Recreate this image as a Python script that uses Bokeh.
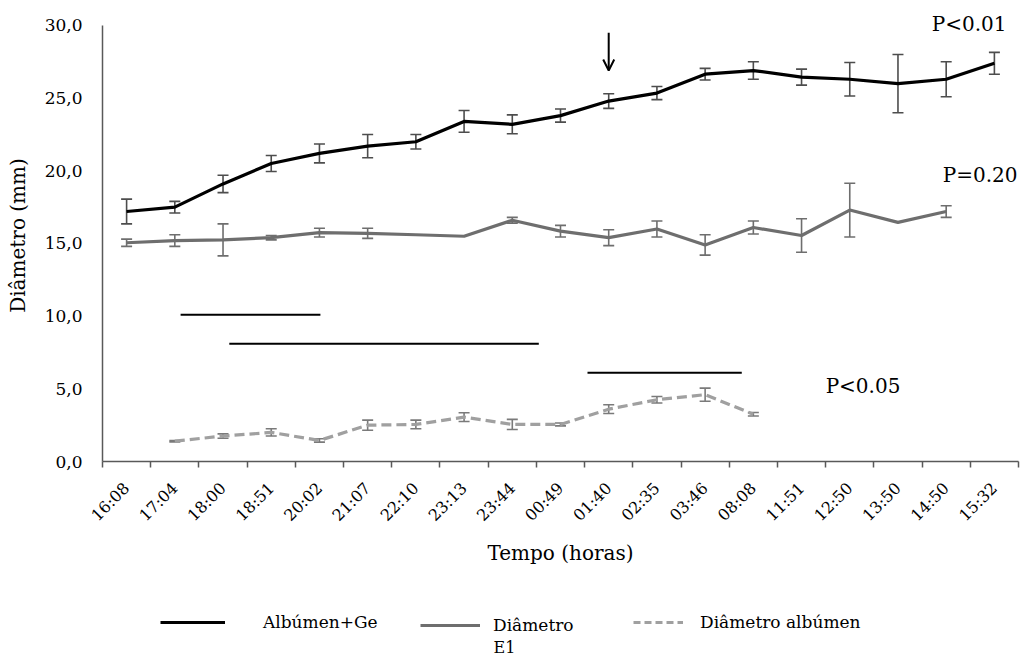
import math
from bokeh.plotting import figure
from bokeh.layouts import column
from bokeh.models import (ColumnDataSource, Range1d, FixedTicker, Whisker, TeeHead, Label,
                          Arrow, OpenHead, Legend, LegendItem)
from bokeh.embed import file_html
from bokeh.resources import INLINE

nan = float("nan")

# ---------------- data ----------------
times = ["16:08", "17:04", "18:00", "18:51", "20:02", "21:07", "22:10", "23:13", "23:44", "00:49",
         "01:40", "02:35", "03:46", "08:08", "11:51", "12:50", "13:50", "14:50", "15:32"]

alb_gema = [17.2, 17.5, 19.1, 20.5, 21.2, 21.7, 22.0, 23.4, 23.2, 23.8,
            24.8, 25.35, 26.65, 26.9, 26.45, 26.3, 26.0, 26.3, 27.4]
alb_gema_err = [0.85, 0.4, 0.6, 0.55, 0.65, 0.8, 0.5, 0.75, 0.65, 0.45,
                0.5, 0.45, 0.4, 0.6, 0.55, 1.15, 2.0, 1.2, 0.75]

diam_f1 = [15.05, 15.2, 15.25, 15.4, 15.75, 15.7, 15.6, 15.5, 16.6, 15.85,
           15.4, 16.0, 14.9, 16.1, 15.55, 17.3, 16.45, 17.2, nan]
diam_f1_err = [0.25, 0.4, 1.1, 0.15, 0.3, 0.35, 0.0, 0.0, 0.2, 0.4,
               0.55, 0.55, 0.7, 0.45, 1.15, 1.85, 0.0, 0.4, 0.0]

diam_alb = [nan, 1.4, 1.75, 2.0, 1.45, 2.5, 2.55, 3.05, 2.55, 2.55,
            3.6, 4.25, 4.6, 3.25, nan, nan, nan, nan, nan]
diam_alb_err = [0.0, 0.05, 0.15, 0.25, 0.12, 0.35, 0.3, 0.3, 0.35, 0.1,
                0.3, 0.22, 0.45, 0.12, 0.0, 0.0, 0.0, 0.0, 0.0]

y_ticks = [0, 5, 10, 15, 20, 25, 30]
y_tick_labels = ["0,0", "5,0", "10,0", "15,0", "20,0", "25,0", "30,0"]

# significance bars (x in category units, y in mm)
sig_x0 = [1.62, 2.63, 10.06]
sig_x1 = [4.52, 9.05, 13.26]
sig_y = [10.1, 8.1, 6.1]

p_texts = ["P<0.01", "P=0.20", "P<0.05"]
p_text_x = [17.2, 17.43, 15.0]
p_text_y = [30.1, 19.7, 5.2]

arrow_cat = "01:40"
arrow_y = [29.5, 26.9]

legend_labels = ["Albúmen+Ge", "Diâmetro", "Diâmetro albúmen"]
legend_extra = "E1"

# ---------------- main figure ----------------
FONT = "DejaVu Serif"
xs = [i + 0.5 for i in range(len(times))]
LEFT, RIGHT = 102, 10

p = figure(width=1028, height=600, output_backend="svg", toolbar_location=None,
           x_range=Range1d(0, len(times)), y_range=Range1d(0, 31.1),
           min_border_left=LEFT, min_border_right=RIGHT, min_border_top=9, min_border_bottom=139)
p.outline_line_color = None
p.xgrid.visible = False
p.ygrid.visible = False
p.background_fill_color = "white"
p.border_fill_color = "white"

def src(vals, errs):
    d = dict(x=[], y=[], lo=[], hi=[])
    for x, v, e in zip(xs, vals, errs):
        if v == v and e > 0:
            d["x"].append(x); d["y"].append(v); d["lo"].append(v - e); d["hi"].append(v + e)
    return ColumnDataSource(d)

C1, C2, C3 = "#000000", "#6e6e6e", "#a0a0a0"
DASH = "10 5"

r1 = p.line(xs, alb_gema, line_color=C1, line_width=3.2)
r2 = p.line(xs, diam_f1, line_color=C2, line_width=3.2)
r3 = p.line(xs, diam_alb, line_color=C3, line_width=3.2, line_dash=DASH)

for vals, errs, col in [(alb_gema, alb_gema_err, "#4d4d4d"), (diam_f1, diam_f1_err, "#6e6e6e"),
                        (diam_alb, diam_alb_err, "#7a7a7a")]:
    s = src(vals, errs)
    w = Whisker(base="x", lower="lo", upper="hi", source=s, line_color=col, line_width=1.6,
                lower_head=TeeHead(size=11, line_color=col, line_width=1.6),
                upper_head=TeeHead(size=11, line_color=col, line_width=1.6))
    p.add_layout(w)

p.segment(x0=sig_x0, x1=sig_x1, y0=sig_y, y1=sig_y, line_color="black", line_width=2)

ax = xs[times.index(arrow_cat)]
p.add_layout(Arrow(end=OpenHead(size=11, line_width=2, line_color="black"),
                   x_start=ax, y_start=arrow_y[0], x_end=ax, y_end=arrow_y[1],
                   line_width=2, line_color="black"))

for t, x, y in zip(p_texts, p_text_x, p_text_y):
    p.add_layout(Label(x=x, y=y, text=t, text_font=FONT, text_font_size="20px",
                       text_color="black", text_baseline="alphabetic"))

xa = p.xaxis[0]
xa.ticker = FixedTicker(ticks=xs, minor_ticks=list(range(len(times) + 1)))
xa.major_label_overrides = {x: t for x, t in zip(xs, times)}
xa.major_label_orientation = math.pi / 4
xa.major_tick_out = 0
xa.major_tick_in = 0
xa.minor_tick_out = 6
xa.minor_tick_in = 0
xa.minor_tick_line_color = "#595959"
xa.minor_tick_line_width = 1.5
xa.axis_line_color = "#595959"
xa.axis_line_width = 1.5
xa.major_label_text_font = FONT
xa.major_label_text_font_size = "16px"
xa.major_label_text_color = "black"
xa.major_label_standoff = 18
xa.axis_label = "Tempo (horas)"
xa.axis_label_text_font = FONT
xa.axis_label_text_font_size = "20px"
xa.axis_label_text_font_style = "normal"
xa.axis_label_text_color = "black"
xa.axis_label_standoff = 6

ya = p.yaxis[0]
ya.bounds = (0, 30)
ya.ticker = FixedTicker(ticks=y_ticks, minor_ticks=[])
ya.major_label_overrides = {v: t for v, t in zip(y_ticks, y_tick_labels)}
ya.major_tick_out = 0
ya.major_tick_in = 0
ya.minor_tick_out = 0
ya.minor_tick_in = 0
ya.axis_line_color = "#595959"
ya.axis_line_width = 1.5
ya.major_label_text_font = FONT
ya.major_label_text_font_size = "17px"
ya.major_label_text_color = "black"
ya.major_label_standoff = 20
ya.axis_label = "Diâmetro (mm)"
ya.axis_label_text_font = FONT
ya.axis_label_text_font_size = "20px"
ya.axis_label_text_font_style = "normal"
ya.axis_label_text_color = "black"
ya.axis_label_standoff = 12

# ---------------- legend strip (frame aligned with main plot; x in page pixels) ----------------
leg = figure(width=1028, height=56, output_backend="svg", toolbar_location=None,
             x_range=Range1d(LEFT, 1028 - RIGHT), y_range=Range1d(0, 56),
             min_border_left=LEFT, min_border_right=RIGHT, min_border_top=0, min_border_bottom=0)
leg.axis.visible = False
leg.grid.visible = False
leg.outline_line_color = None
leg.background_fill_color = "white"
leg.border_fill_color = "white"

g1 = leg.line([-100, -99], [-100, -99], line_color=C1, line_width=3.2)
g2 = leg.line([-100, -99], [-100, -99], line_color=C2, line_width=3.2)
g3 = leg.line([-100, -99], [-100, -99], line_color=C3, line_width=3.2, line_dash="7 4")

for lab, rend, gx, gy, gw, so in [(legend_labels[0], g1, 160, 24, 65, 38),
                                  (legend_labels[1], g2, 420, 21, 60, 13),
                                  (legend_labels[2], g3, 633, 24, 50, 17)]:
    lg = Legend(items=[LegendItem(label=lab, renderers=[rend])], location=(gx - LEFT, gy),
                orientation="horizontal", glyph_width=gw, glyph_height=20, label_standoff=so,
                label_text_font=FONT, label_text_font_size="17px", label_text_color="black",
                border_line_color=None, background_fill_alpha=0, padding=0, margin=0)
    leg.add_layout(lg)

leg.add_layout(Label(x=493, y=0, text=legend_extra, text_font=FONT, text_font_size="16px",
                     text_color="black", text_baseline="bottom"))

layout = column(p, leg, spacing=0)
open("out.html", "w").write(file_html(layout, INLINE))
